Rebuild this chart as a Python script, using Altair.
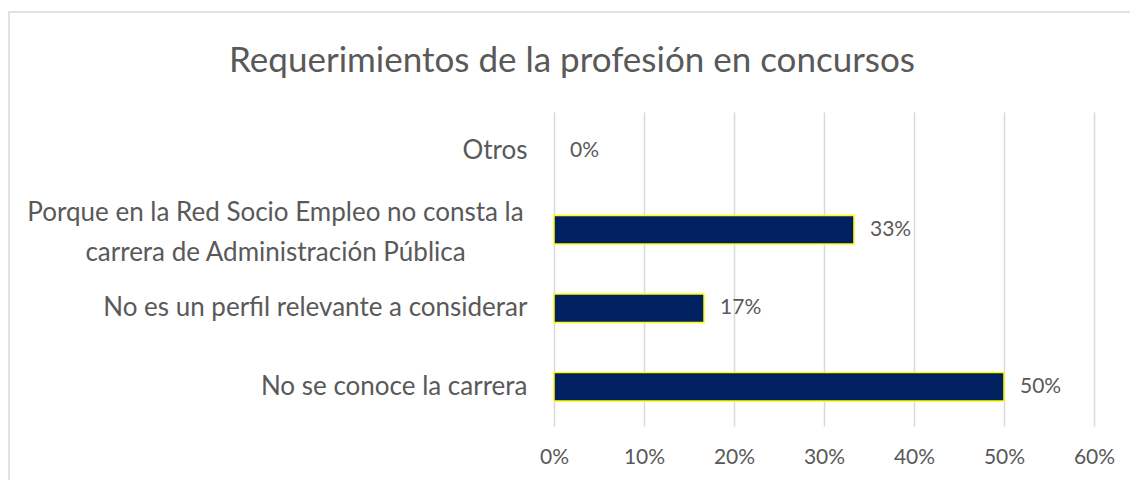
import altair as alt
import pandas as pd

# ---- data ----
categories = [
    "Otros",
    "Porque en la Red Socio Empleo no consta la|carrera de Administración Pública",
    "No es un perfil relevante a considerar",
    "No se conoce la carrera",
]
values = [0.0, 0.3333, 0.1667, 0.5]
x_ticks = [0.0, 0.1, 0.2, 0.3, 0.4, 0.5, 0.6]
chart_title = "Requerimientos de la profesión en concursos"

df = pd.DataFrame({"categoria": categories, "valor": values})

FONT = "Lato"
TXT = "#595959"
MULTI = "indexof(datum.value, '|') >= 0"

y_enc = alt.Y(
    "categoria:N",
    sort=categories,
    title=None,
    scale=alt.Scale(paddingInner=0.64, paddingOuter=0.32),
    axis=alt.Axis(
        labelExpr="split(datum.label, '|')",
        ticks=False,
        domain=False,
        grid=False,
        labelPadding={"condition": {"test": MULTI, "value": 279}, "value": 27},
        labelAlign={"condition": {"test": MULTI, "value": "center"}, "value": "right"},
        labelOffset={"condition": {"test": MULTI, "value": -17}, "value": 0},
        labelFontSize=26,
        labelFont=FONT,
        labelColor=TXT,
        labelLineHeight=40,
        labelLimit=700,
    ),
)
x_enc = alt.X(
    "valor:Q",
    title=None,
    scale=alt.Scale(domain=[0, 0.6]),
    axis=alt.Axis(
        values=x_ticks,
        format=".0%",
        grid=True,
        gridColor="#d9d9d9",
        gridWidth=1.5,
        ticks=False,
        domain=False,
        labelFlush=False,
        labelPadding=20,
        labelFontSize=21,
        labelFont=FONT,
        labelColor=TXT,
    ),
)

frame = alt.Chart(alt.Data(values=[{}])).mark_rect(
    filled=False, stroke="#d9d9d9", strokeWidth=1.5
).encode(
    x=alt.value(-545), x2=alt.value(800), y=alt.value(-100), y2=alt.value(600)
)

bars = alt.Chart(df).mark_bar(
    color="#002060", stroke="#FFFF00", strokeWidth=1.5
).encode(
    x=x_enc,
    y=y_enc,
    strokeOpacity=alt.condition("datum.valor > 0", alt.value(1), alt.value(0)),
)

labels = alt.Chart(df).mark_text(
    align="left", baseline="middle", dx=16, fontSize=21, font=FONT, color=TXT
).encode(
    x="valor:Q",
    y=alt.Y("categoria:N", sort=categories),
    text=alt.Text("valor:Q", format=".0%"),
)

chart = alt.layer(frame, bars, labels).properties(
    width=540,
    height=314,
    title=alt.TitleParams(
        chart_title,
        font=FONT,
        fontSize=35,
        fontWeight="normal",
        color=TXT,
        anchor="middle",
        dx=-252,
        baseline="alphabetic",
        offset=-96,
    ),
    autosize=alt.AutoSizeParams(type="none"),
    padding={"left": 546, "top": 104, "right": 36, "bottom": 54},
).configure_view(strokeWidth=0)

chart.save("out.html", embed_options={"renderer": "svg", "actions": False})
